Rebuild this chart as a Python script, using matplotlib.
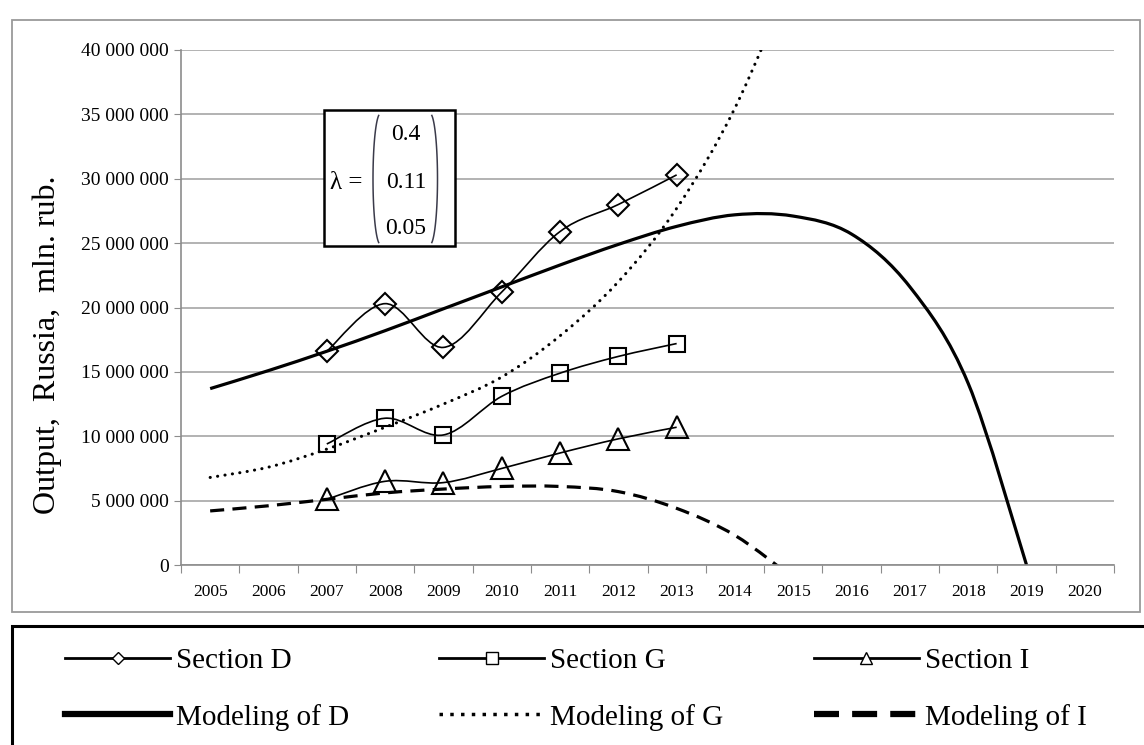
import numpy as np
import matplotlib.pyplot as plt
from matplotlib.path import Path
from matplotlib.patches import PathPatch, Rectangle
from matplotlib.lines import Line2D

plt.rcParams['font.family'] = ['Liberation Serif', 'DejaVu Serif']

# categories on the x axis
years = [str(y) for y in range(2005, 2021)]

# observed output, mln. rub. (2007-2013)
obs_years = ['2007', '2008', '2009', '2010', '2011', '2012', '2013']
section_d = [16.6, 20.3, 16.9, 21.2, 25.9, 28.0, 30.3]
section_g = [9.4, 11.4, 10.1, 13.1, 14.9, 16.2, 17.2]
section_i = [5.1, 6.5, 6.4, 7.5, 8.7, 9.8, 10.7]

# modelled output (millions)
model_d_years = [str(y) for y in range(2005, 2020)]
model_d = [13.7, 15.1, 16.6, 18.2, 19.9, 21.6, 23.3, 24.9, 26.3, 27.2, 27.1, 25.7, 21.6, 14.1, 0.0]
model_g_years = [str(y) for y in range(2005, 2016)]
model_g = [6.8, 7.6, 9.0, 10.7, 12.5, 14.6, 17.8, 22.0, 27.7, 35.5, 46.0]
model_i_years = [str(y) for y in range(2005, 2016)]
model_i = [4.2, 4.6, 5.1, 5.6, 5.9, 6.1, 6.1, 5.7, 4.4, 2.3, -1.0]

lam = ['0.4', '0.11', '0.05']

W, H = 1144, 745


def px(x, y):
    # pixel position (from top-left) -> figure fraction
    return x / W, 1 - y / H


def xpos(labels):
    return [years.index(s) for s in labels]


def smooth_path(xs, ys):
    # Excel-like smoothed line: Catmull-Rom turned into cubic Bezier pieces
    pts = np.column_stack([xs, ys]).astype(float)
    n = len(pts)
    verts = [pts[0]]
    codes = [Path.MOVETO]
    for k in range(n - 1):
        p0 = pts[k - 1] if k > 0 else pts[k]
        p1, p2 = pts[k], pts[k + 1]
        p3 = pts[k + 2] if k + 2 < n else pts[k + 1]
        verts += [p1 + (p2 - p0) / 6, p2 - (p3 - p1) / 6, p2]
        codes += [Path.CURVE4] * 3
    return Path(verts, codes)


def paren(cx, cy, rx, ry, left=True):
    # big bracket for the lambda vector, drawn in figure pixels
    t = np.radians(np.linspace(104, 256, 60))
    xs = cx + rx * np.cos(t) * (1 if left else -1)
    ys = cy + ry * np.sin(t)
    fx = xs / W
    fy = 1 - ys / H
    fig.add_artist(Line2D(fx, fy, transform=fig.transFigure, color='#3a3a4a',
                          lw=1.1, zorder=6))


fig = plt.figure(figsize=(W / 100, H / 100), dpi=100)
ax = fig.add_axes([181 / W, 1 - 565 / H, (1114 - 181) / W, (565 - 50) / H])

M = 1e6
grid_c = '#a6a6a6'

# model curves
ax.add_patch(PathPatch(smooth_path(xpos(model_d_years), np.array(model_d) * M),
                       fill=False, color='black', lw=2.3, capstyle='butt'))
ax.add_patch(PathPatch(smooth_path(xpos(model_g_years), np.array(model_g) * M),
                       fill=False, color='black', lw=2.2, linestyle=(0, (0.05, 2.4)),
                       capstyle='round'))
ax.add_patch(PathPatch(smooth_path(xpos(model_i_years), np.array(model_i) * M),
                       fill=False, color='black', lw=2.3, linestyle=(0, (4.4, 2.6)),
                       capstyle='butt'))

# observed sections: smoothed line + hollow markers
for vals, mk, ms in [(section_d, 'D', 11), (section_g, 's', 11.5), (section_i, '^', 16)]:
    xs = xpos(obs_years)
    ys = np.array(vals) * M
    ax.add_patch(PathPatch(smooth_path(xs, ys), fill=False, color='black', lw=1.2))
    ax.plot(xs, ys, linestyle='none', marker=mk, markersize=ms, markerfacecolor='none',
            markeredgecolor='black', markeredgewidth=1.5, zorder=3)

ax.set_xlim(-0.5, len(years) - 0.5)
ax.set_ylim(0, 40 * M)
ax.set_yticks(np.arange(0, 41, 5) * M)
ax.set_yticklabels([f'{int(v):,}'.replace(',', ' ') for v in np.arange(0, 41, 5) * M], fontsize=14)
ax.set_xticks(np.arange(-0.5, len(years) + 0.5, 1))
ax.set_xticklabels([])
ax.set_xticks(np.arange(len(years)), minor=True)
ax.set_xticklabels(years, minor=True, fontsize=12.5)
ax.tick_params(axis='x', which='major', length=6, color='#8c8c8c')
ax.tick_params(axis='x', which='minor', length=0, pad=14)
ax.tick_params(axis='y', length=5, color='#8c8c8c', pad=4)
ax.yaxis.grid(True, color=grid_c, lw=1.2)
ax.set_axisbelow(True)
for s in ['top', 'right']:
    ax.spines[s].set_visible(False)
for s in ['left', 'bottom']:
    ax.spines[s].set_color('#8c8c8c')
    ax.spines[s].set_linewidth(1.2)

fig.text(*px(47, 345), 'Output,  Russia,  mln. rub.', rotation=90, fontsize=23,
         ha='center', va='center')

# lambda box
x0, y0 = px(324, 246)
x1, y1 = px(455, 110)
fig.add_artist(Rectangle((x0, y0), x1 - x0, y1 - y0, transform=fig.transFigure,
                         facecolor='white', edgecolor='black', lw=1.8, zorder=5))
fig.text(*px(330, 183), 'λ =', fontsize=18, ha='left', va='center', zorder=6)
for txt, yy in zip(lam, [135, 182, 228]):
    fig.text(*px(406, yy), txt, fontsize=17, ha='center', va='center', zorder=6)
paren(380.5, 179, 7.5, 65.5, left=True)
paren(430, 179, 7.5, 65.5, left=False)

# outer chart frame
x0, y0 = px(12, 612)
x1, y1 = px(1140, 20)
fig.add_artist(Rectangle((x0, y0), x1 - x0, y1 - y0, transform=fig.transFigure,
                         fill=False, edgecolor='#9a9a9a', lw=1.3))

# legend box
x0, y0 = px(12, 760)
x1, y1 = px(1160, 626)
fig.add_artist(Rectangle((x0, y0), x1 - x0, y1 - y0, transform=fig.transFigure,
                         fill=False, edgecolor='black', lw=2.2))

handles = [
    Line2D([], [], color='black', lw=2, marker='D', markersize=6, markerfacecolor='white',
           markeredgewidth=1),
    Line2D([], [], color='black', lw=4.5),
    Line2D([], [], color='black', lw=2, marker='s', markersize=8, markerfacecolor='white',
           markeredgewidth=1),
    Line2D([], [], color='black', lw=2.5, linestyle=(0, (1, 2.1))),
    Line2D([], [], color='black', lw=2, marker='^', markersize=9, markerfacecolor='white',
           markeredgewidth=1),
    Line2D([], [], color='black', lw=4.5, linestyle=(0, (4, 2.1))),
]
labels = ['Section D', 'Modeling of D', 'Section G', 'Modeling of G', 'Section I', 'Modeling of I']
fig.legend(handles, labels, loc='upper left', bbox_to_anchor=px(65, 648), ncol=3,
           frameon=False, fontsize=21, handlelength=3.6, handletextpad=0.2,
           columnspacing=3.1, labelspacing=1.0, borderpad=0, borderaxespad=0)

fig.savefig('out.png', dpi=100)
